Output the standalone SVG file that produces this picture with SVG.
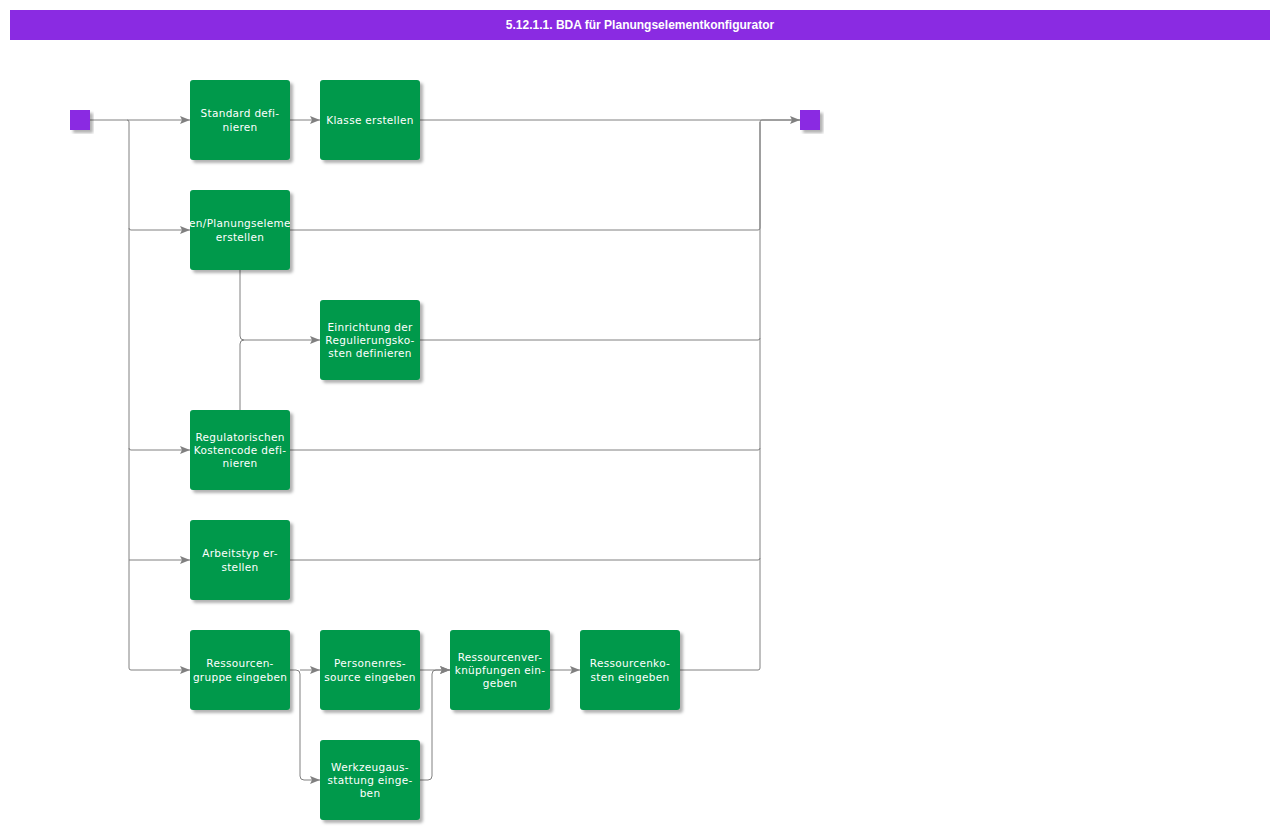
<svg xmlns="http://www.w3.org/2000/svg" width="1280" height="830" viewBox="0 0 1280 830">
<defs>
<filter id="sh" x="-10%" y="-10%" width="130%" height="130%">
<feDropShadow dx="3" dy="3" stdDeviation="1.5" flood-color="#000" flood-opacity="0.3"/>
</filter>
<marker id="ar" markerWidth="10" markerHeight="8" refX="10" refY="4" orient="auto" markerUnits="userSpaceOnUse">
<path d="M0,0 L10,4 L0,8 L2,4 Z" fill="#808080"/>
</marker>
<clipPath id="c2"><rect x="190" y="190" width="100" height="80"/></clipPath>
</defs>
<style>
.box{fill:#00994c;filter:url(#sh)}
.ev{fill:#8a2be2;filter:url(#sh)}
.t{font-family:"DejaVu Sans",Verdana,sans-serif;font-size:10.5px;fill:#fff;text-anchor:middle;letter-spacing:0.3px}
.c{fill:none;stroke:#808080;stroke-width:1}
</style>
<rect x="10" y="10" width="1260" height="30" fill="#8a2be2"/>
<text x="640" y="29" font-family="'Liberation Sans',Arial,sans-serif" font-size="12" font-weight="bold" fill="#fff" text-anchor="middle">5.12.1.1. BDA für Planungselementkonfigurator</text>
<g id="connectors">
<path class="c" d="M90,120 H190" marker-end="url(#ar)"/>
<path class="c" d="M127,120 Q129,120 129,122 V668 Q129,670 131,670 H190" marker-end="url(#ar)"/>
<path class="c" d="M129,228 Q129,230 131,230 H190" marker-end="url(#ar)"/>
<path class="c" d="M129,448 Q129,450 131,450 H190" marker-end="url(#ar)"/>
<path class="c" d="M129,560 H190" marker-end="url(#ar)"/>
<path class="c" d="M290,120 H320" marker-end="url(#ar)"/>
<path class="c" d="M420,120 H800" marker-end="url(#ar)"/>
<path class="c" d="M290,230 H758 Q760,230 760,228 V122 Q760,120 762,120 H800"/>
<path class="c" d="M420,340 H758 Q760,340 760,338"/>
<path class="c" d="M290,450 H758 Q760,450 760,448"/>
<path class="c" d="M290,560 H758 Q760,560 760,558"/>
<path class="c" d="M680,670 H758 Q760,670 760,668 V122"/>
<path class="c" d="M240,270 V336 Q240,340 244,340 H320" marker-end="url(#ar)"/>
<path class="c" d="M240,410 V344 Q240,340 244,340"/>
<path class="c" d="M290,670 H296 Q300,670 300,674 V776 Q300,780 304,780 H320" marker-end="url(#ar)"/>
<path class="c" d="M300,670 H320" marker-end="url(#ar)"/>
<path class="c" d="M420,670 H450" marker-end="url(#ar)"/>
<path class="c" d="M420,780 H428 Q432,780 432,776 V674 Q432,670 436,670 H450" marker-end="url(#ar)"/>
<path class="c" d="M550,670 H580" marker-end="url(#ar)"/>
</g>
<g id="start"><rect class="ev" x="70" y="110" width="20" height="20"/></g>
<g id="end"><rect class="ev" x="800" y="110" width="20" height="20"/></g>
<g id="n1"><rect class="box" x="190" y="80" width="100" height="80" rx="3"/>
<text class="t" x="240" y="117">Standard defi-</text><text class="t" x="240" y="131">nieren</text></g>
<g id="n2"><rect class="box" x="320" y="80" width="100" height="80" rx="3"/>
<text class="t" x="370" y="124">Klasse erstellen</text></g>
<g id="n3"><rect class="box" x="190" y="190" width="100" height="80" rx="3"/>
<g clip-path="url(#c2)"><text class="t" x="240" y="227">en/Planungseleme</text></g><text class="t" x="240" y="241">erstellen</text></g>
<g id="n4"><rect class="box" x="320" y="300" width="100" height="80" rx="3"/>
<text class="t" x="370" y="331">Einrichtung der</text><text class="t" x="370" y="344">Regulierungsko-</text><text class="t" x="370" y="357">sten definieren</text></g>
<g id="n5"><rect class="box" x="190" y="410" width="100" height="80" rx="3"/>
<text class="t" x="240" y="441">Regulatorischen</text><text class="t" x="240" y="454">Kostencode defi-</text><text class="t" x="240" y="467">nieren</text></g>
<g id="n6"><rect class="box" x="190" y="520" width="100" height="80" rx="3"/>
<text class="t" x="240" y="557">Arbeitstyp er-</text><text class="t" x="240" y="571">stellen</text></g>
<g id="n7"><rect class="box" x="190" y="630" width="100" height="80" rx="3"/>
<text class="t" x="240" y="667">Ressourcen-</text><text class="t" x="240" y="681">gruppe eingeben</text></g>
<g id="n8"><rect class="box" x="320" y="630" width="100" height="80" rx="3"/>
<text class="t" x="370" y="667">Personenres-</text><text class="t" x="370" y="681">source eingeben</text></g>
<g id="n9"><rect class="box" x="450" y="630" width="100" height="80" rx="3"/>
<text class="t" x="500" y="661">Ressourcenver-</text><text class="t" x="500" y="674">knüpfungen ein-</text><text class="t" x="500" y="687">geben</text></g>
<g id="n10"><rect class="box" x="580" y="630" width="100" height="80" rx="3"/>
<text class="t" x="630" y="667">Ressourcenko-</text><text class="t" x="630" y="681">sten eingeben</text></g>
<g id="n11"><rect class="box" x="320" y="740" width="100" height="80" rx="3"/>
<text class="t" x="370" y="771">Werkzeugaus-</text><text class="t" x="370" y="784">stattung einge-</text><text class="t" x="370" y="797">ben</text></g>
</svg>
